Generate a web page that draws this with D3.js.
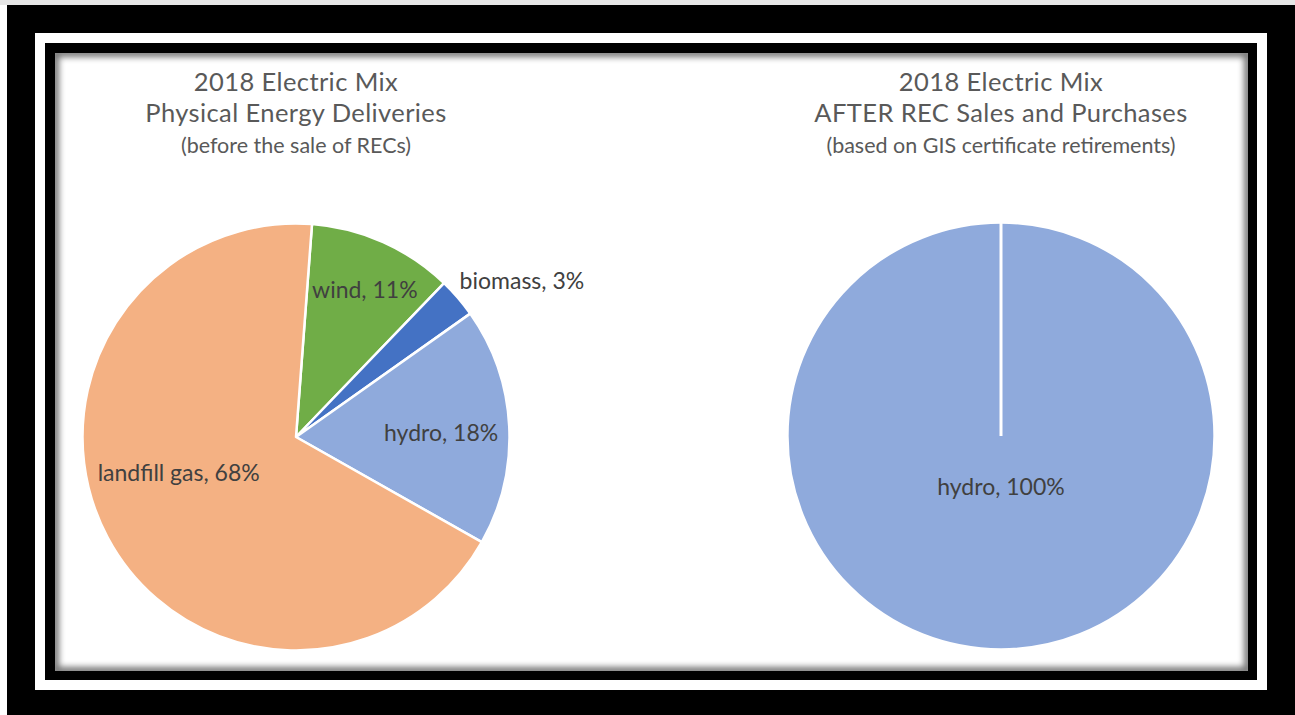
<!DOCTYPE html>
<html>
<head>
<meta charset="utf-8">
<script src="https://cdn.jsdelivr.net/npm/d3@7"></script>
<style>
  html, body { margin: 0; padding: 0; background: #fff; }
  svg { display: block; }
</style>
</head>
<body>
<svg id="chart" width="1295" height="715"></svg>
<script>
// ---- data ----
const leftCategories = ["wind", "biomass", "hydro", "landfill gas"];
const leftValues = [11, 3, 18, 68];
const rightCategories = ["hydro"];
const rightValues = [100];
const leftTitle = ["2018 Electric Mix", "Physical Energy Deliveries", "(before the sale of RECs)"];
const rightTitle = ["2018 Electric Mix", "AFTER REC Sales and Purchases", "(based on GIS certificate retirements)"];

// ---- styling ----
const sliceColors = {
  "landfill gas": "#F4B183",
  "wind": "#70AD47",
  "biomass": "#4472C4",
  "hydro": "#8FAADC"
};
const FONT = "Lato, 'Open Sans', sans-serif";
const W = 1295, H = 715;
const radius = 213.5;
const leftCenter = [296, 437];
const rightCenter = [1001, 436];
const leftStartDeg = 4.3;

// label placement: radial fraction, angular nudge (deg), anchor
const labelLayout = {
  "wind":         { k: 0.76,  da: 1,   anchor: "middle" },
  "biomass":      { k: 1.06,  da: -3,  anchor: "start" },
  "hydro":        { k: 0.68,  da: 1.3, anchor: "middle" },
  "landfill gas": { k: 0.575, da: 11,  anchor: "middle" }
};
const singleLabelLayout = { k: 0.24, da: 0, anchor: "middle" };

const svg = d3.select("#chart");
const defs = svg.append("defs");

// ---- frame ----
svg.append("rect").attr("x", 0).attr("y", 0).attr("width", W).attr("height", 5).attr("fill", "#e6e6e6");
svg.append("rect").attr("x", 7).attr("y", 5).attr("width", W - 7).attr("height", H - 5).attr("fill", "#000");
svg.append("rect").attr("x", 35).attr("y", 33).attr("width", 1232).attr("height", 657).attr("fill", "#fff");
svg.append("rect").attr("x", 45).attr("y", 43).attr("width", 1212).attr("height", 637).attr("fill", "#000");

const panel = { x: 55, y: 53, w: 1193, h: 618 };
svg.append("rect").attr("x", panel.x).attr("y", panel.y).attr("width", panel.w).attr("height", panel.h).attr("fill", "#fff");

defs.append("clipPath").attr("id", "panelClip")
  .append("rect").attr("x", panel.x).attr("y", panel.y).attr("width", panel.w).attr("height", panel.h);
defs.append("filter").attr("id", "soft").attr("x", "-5%").attr("y", "-5%").attr("width", "110%").attr("height", "110%")
  .append("feGaussianBlur").attr("stdDeviation", 3);

// inner shadow along the panel edges
svg.append("g").attr("clip-path", "url(#panelClip)")
  .append("rect")
  .attr("x", panel.x).attr("y", panel.y).attr("width", panel.w).attr("height", panel.h)
  .attr("fill", "none").attr("stroke", "#000").attr("stroke-width", 8)
  .attr("opacity", 0.55).attr("filter", "url(#soft)");

// ---- helpers ----
const rad = d => d * Math.PI / 180;

function drawTitle(lines, cx) {
  const g = svg.append("g").attr("font-family", FONT).attr("fill", "#595959").attr("text-anchor", "middle");
  const sizes = [25.5, 25.5, 21.5];
  const spacing = [0.4, 0.4, 0];
  const baselines = [91, 122, 153];
  lines.forEach((t, i) => {
    g.append("text").attr("x", cx).attr("y", baselines[i])
      .attr("font-size", sizes[i]).attr("letter-spacing", spacing[i]).text(t);
  });
}

function drawPie(categories, values, center, startDeg, layoutFor) {
  const data = categories.map((c, i) => ({ name: c, value: values[i] }));
  const pie = d3.pie().sort(null).value(d => d.value)
    .startAngle(rad(startDeg)).endAngle(rad(startDeg) + 2 * Math.PI);
  const arcs = pie(data);
  const arc = d3.arc().innerRadius(0).outerRadius(radius);
  const g = svg.append("g").attr("transform", `translate(${center[0]},${center[1]})`);

  g.selectAll("path.slice").data(arcs).join("path")
    .attr("class", "slice")
    .attr("d", arc)
    .attr("fill", d => sliceColors[d.data.name])
    .attr("stroke", "#fff").attr("stroke-width", 2.5).attr("stroke-linejoin", "round");

  // a lone full slice still shows its edge from the centre
  if (arcs.length === 1) {
    const p = d3.pointRadial(arcs[0].startAngle, radius);
    g.append("line").attr("x1", 0).attr("y1", 0).attr("x2", p[0]).attr("y2", p[1])
      .attr("stroke", "#fff").attr("stroke-width", 3);
  }

  g.selectAll("text.lbl").data(arcs).join("text")
    .attr("class", "lbl")
    .each(function (d) {
      const L = layoutFor(d.data.name);
      const a = (d.startAngle + d.endAngle) / 2 + rad(L.da);
      const p = d3.pointRadial(a, radius * L.k);
      d3.select(this).attr("x", p[0]).attr("y", p[1]).attr("text-anchor", L.anchor);
    })
    .attr("dy", "0.35em")
    .attr("font-family", FONT).attr("font-size", 23).attr("fill", "#404040")
    .text(d => `${d.data.name}, ${d.data.value}%`);
}

drawTitle(leftTitle, leftCenter[0]);
drawTitle(rightTitle, rightCenter[0]);
drawPie(leftCategories, leftValues, leftCenter, leftStartDeg, n => labelLayout[n]);
drawPie(rightCategories, rightValues, rightCenter, 0, () => singleLabelLayout);
</script>
</body>
</html>
